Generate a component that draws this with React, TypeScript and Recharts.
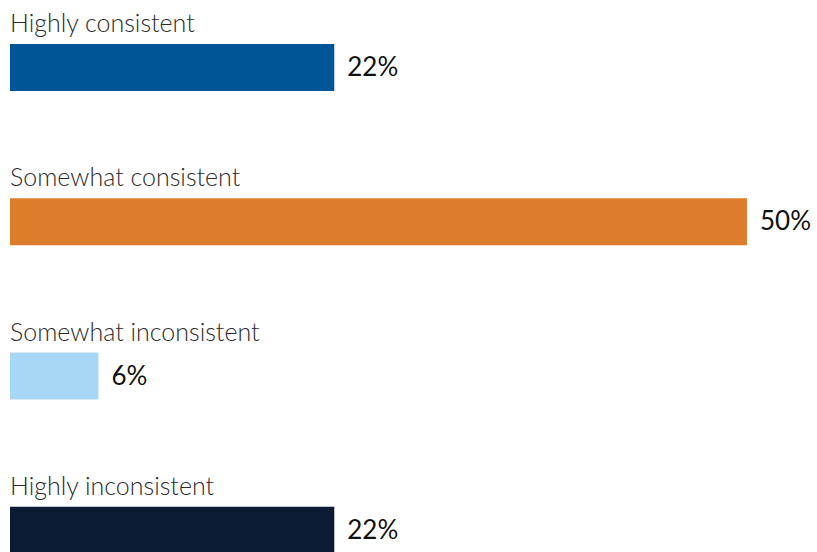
import { BarChart, Bar, XAxis, YAxis, Cell, LabelList } from 'recharts'

// ── Data ──────────────────────────────────────────────────────────────────────

const categories = ['Highly consistent', 'Somewhat consistent', 'Somewhat inconsistent', 'Highly inconsistent']
const shares = [22, 50, 6, 22]
const barColors = ['#005596', '#dd7c2a', '#a7d7f4', '#0a1b33']

const chartData = categories.map((name, i) => ({ name, value: shares[i] }))

const FONT = 'Lato, "Open Sans", sans-serif'

// ── Label renderers ───────────────────────────────────────────────────────────

function CategoryLabel(props: any) {
  const { x, y, value } = props
  return (
    <text x={x} y={y - 12} fontFamily={FONT} fontWeight={300} fontSize={25} fill="#2b2b2b">
      {value}
    </text>
  )
}

function ValueLabel(props: any) {
  const { x, y, width, value } = props
  return (
    <text x={x + width + 13} y={y + 32} fontFamily={FONT} fontWeight={400} fontSize={26} fill="#111">
      {`${value}%`}
    </text>
  )
}

// ── Main component ────────────────────────────────────────────────────────────

export default function App() {
  return (
    <div style={{ position: 'fixed', left: 0, top: 0, width: 817, height: 552, overflow: 'hidden', background: '#fff' }}>
      <div style={{ position: 'absolute', left: 0, top: -10 }}>
        <BarChart
          width={817}
          height={617}
          data={chartData}
          layout="vertical"
          margin={{ top: 0, right: 0, bottom: 0, left: 10 }}
          barSize={47}
        >
          <XAxis type="number" domain={[0, 54.75]} hide />
          <YAxis type="category" dataKey="name" hide />
          <Bar dataKey="value" isAnimationActive={false}>
            {chartData.map((d, i) => (
              <Cell key={d.name} fill={barColors[i]} />
            ))}
            <LabelList dataKey="name" content={CategoryLabel} />
            <LabelList dataKey="value" content={ValueLabel} />
          </Bar>
        </BarChart>
      </div>
    </div>
  )
}
